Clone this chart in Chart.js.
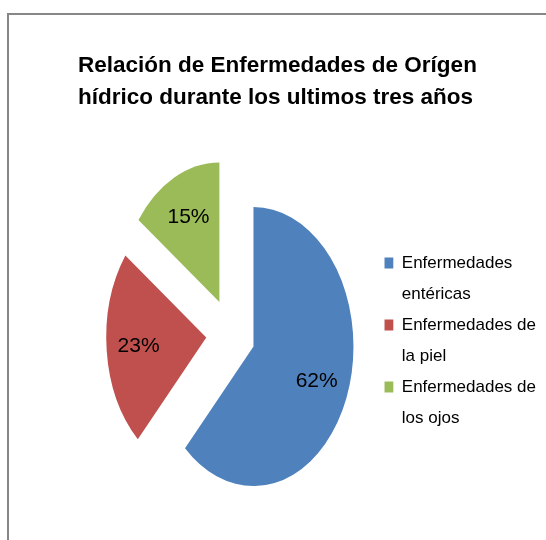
<!DOCTYPE html>
<html>
<head>
<meta charset="utf-8">
<title>Enfermedades de origen hídrico</title>
<script src="https://cdn.jsdelivr.net/npm/chart.js@4.4.1/dist/chart.umd.min.js"></script>
<style>
  html, body { margin: 0; padding: 0; background: #fff; overflow: hidden; }
  .frame {
    position: absolute; left: 7px; top: 13px; width: 600px; height: 600px;
    border-left: 2px solid #878787; border-top: 2px solid #878787;
  }
  .chart-box { position: absolute; left: 0; top: 0; width: 546px; height: 540px; }
</style>
</head>
<body>
<div class="frame"></div>
<div class="chart-box"><canvas id="myChart"></canvas></div>
<script>
const titleLines = ['Relación de Enfermedades de Orígen', 'hídrico durante los ultimos tres años'];
const categories = ['Enfermedades entéricas', 'Enfermedades de la piel', 'Enfermedades de los ojos'];
const percentages = [62, 23, 15];
const sliceColors = ['#4F81BD', '#C0504D', '#9BBB59'];

// the original pie is an ellipse (taller than wide) with every slice pulled out
const STRETCH = 1.395;
const EXPLODE = [24, 25, 26];
const FONT = '"Liberation Sans", Arial, sans-serif';

Chart.defaults.font.family = FONT;

function wrapLabel(c, text, maxWidth) {
  const words = text.split(' ');
  const lines = [];
  let line = words[0];
  words.slice(1).forEach(w => {
    if (c.measureText(line + ' ' + w).width > maxWidth) {
      lines.push(line);
      line = w;
    } else {
      line += ' ' + w;
    }
  });
  lines.push(line);
  return lines;
}

// Chart.js' own offset also grows the big slice, so the arcs are drawn here
// one by one, each moved out along its middle angle and squashed into an ellipse
const explodedPie = {
  id: 'explodedPie',
  beforeDatasetDraw(chart, args) {
    const c = chart.ctx;
    args.meta.data.forEach((arc, i) => {
      const mid = (arc.startAngle + arc.endAngle) / 2;
      c.save();
      c.translate(arc.x, arc.y);
      c.scale(1, STRETCH);
      c.translate(Math.cos(mid) * EXPLODE[i], Math.sin(mid) * EXPLODE[i]);
      c.translate(-arc.x, -arc.y);
      arc.draw(c);
      c.restore();
    });
    return false;
  },
  afterDatasetsDraw(chart) {
    const c = chart.ctx;
    const meta = chart.getDatasetMeta(0);
    const values = chart.data.datasets[0].data;
    c.save();
    c.font = '21px ' + FONT;
    c.fillStyle = '#000';
    c.textAlign = 'center';
    c.textBaseline = 'middle';
    meta.data.forEach((arc, i) => {
      const mid = (arc.startAngle + arc.endAngle) / 2;
      const dist = EXPLODE[i] + arc.outerRadius * 0.68;
      const x = arc.x + Math.cos(mid) * dist;
      const y = arc.y + Math.sin(mid) * dist * STRETCH;
      c.fillText(values[i] + '%', x, y);
    });
    c.restore();
  }
};

const ctx = document.getElementById('myChart');
const myChart = new Chart(ctx, {
  type: 'pie',
  data: {
    labels: categories,
    datasets: [{
      data: percentages,
      backgroundColor: sliceColors,
      borderWidth: 0,
      radius: 100
    }]
  },
  options: {
    responsive: true,
    maintainAspectRatio: false,
    animation: false,
    events: [],
    layout: {
      padding: { left: 78, right: 0, top: 0, bottom: 99.5 }
    },
    plugins: {
      title: {
        display: true,
        text: titleLines,
        align: 'start',
        color: '#000',
        font: { size: 22.5, weight: 'bold', lineHeight: '32.4px' },
        padding: { top: 49.3, bottom: 114 }
      },
      legend: {
        position: 'right',
        align: 'end',
        fullSize: false,
        labels: {
          boxWidth: 9,
          boxHeight: 11,
          padding: 0,
          color: '#000',
          font: { size: 17, lineHeight: '31px' },
          generateLabels(chart) {
            const items = Chart.overrides.doughnut.plugins.legend.labels.generateLabels(chart);
            chart.ctx.font = '17px ' + FONT;
            items.forEach(item => {
              item.text = wrapLabel(chart.ctx, item.text, 140);
            });
            return items;
          }
        }
      },
      tooltip: { enabled: false }
    }
  },
  plugins: [explodedPie]
});
</script>
</body>
</html>
